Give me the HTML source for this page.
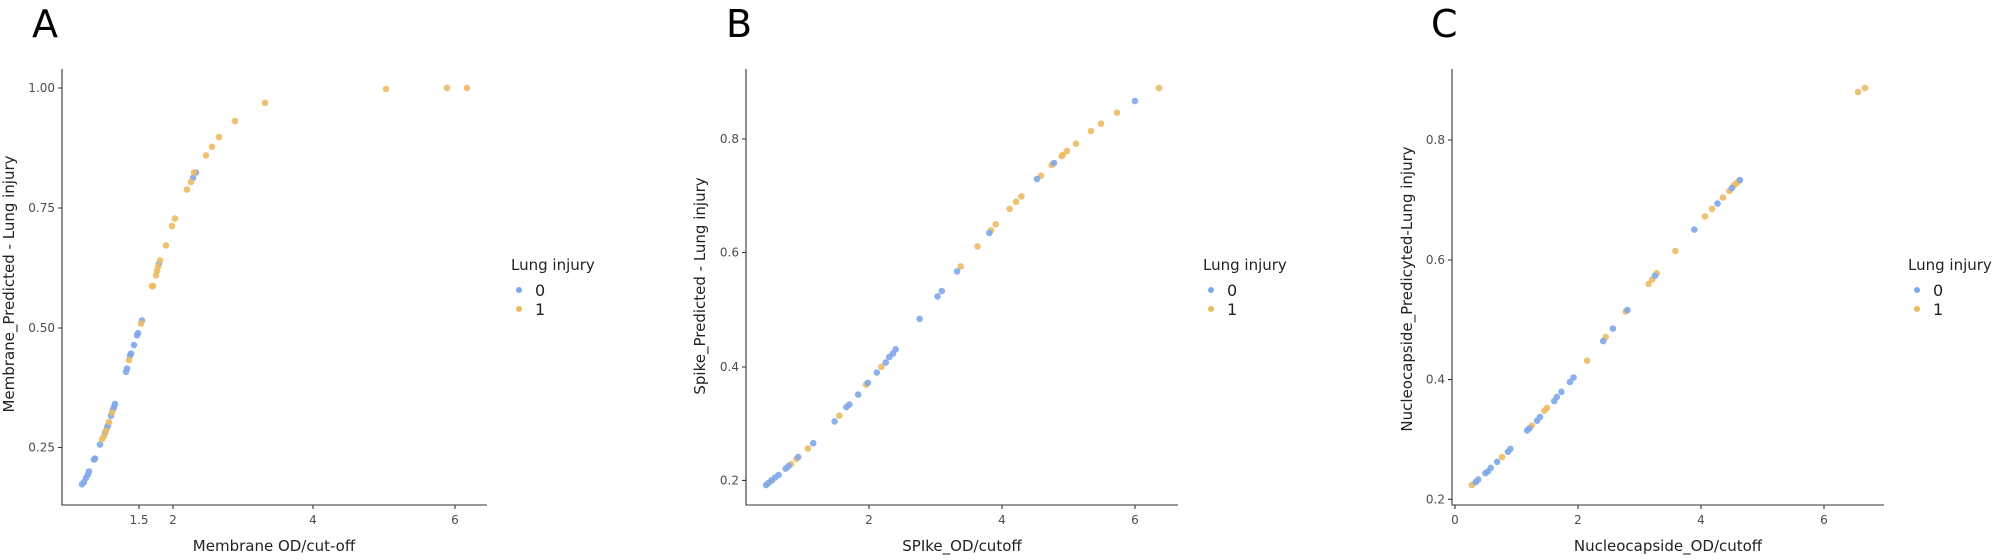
<!DOCTYPE html>
<html><head><meta charset="utf-8">
<style>
html,body{margin:0;padding:0;background:#fff;}
svg{display:block;}
text{font-family:"DejaVu Sans","Liberation Sans",sans-serif;}
.tk{font-size:12px;fill:#4d4d4d;}
.tt{font-size:15px;fill:#222;}
.lt{font-size:15px;fill:#222;}
.ll{font-size:16px;fill:#222;}
.pl{font-family:"Liberation Sans",sans-serif;font-size:38px;fill:#000;}
</style></head><body>
<svg id="s" width="1998" height="560" xmlns="http://www.w3.org/2000/svg">
<g stroke="#333" stroke-width="1.1" fill="none">
<polyline points="62,69 62,505 487,505"/>
<polyline points="746,69 746,505 1178,505"/>
<polyline points="1452,69 1452,505 1884,505"/>
<!-- A ticks -->
<path d="M58,88H62M58,208H62M58,328H62M58,447.5H62M139,505V509M173,505V509M313,505V509M455,505V509"/>
<path d="M742,139H746M742,252.5H746M742,367H746M742,480.4H746M869,505V509M1002,505V509M1135,505V509"/>
<path d="M1448,140H1452M1448,260H1452M1448,379.6H1452M1448,499.3H1452M1455,505V509M1578,505V509M1701,505V509M1824,505V509"/>
</g>
<g class="tk" text-anchor="end" dominant-baseline="central">
<text x="55" y="88">1.00</text><text x="55" y="208">0.75</text><text x="55" y="328">0.50</text><text x="55" y="447.5">0.25</text>
<text x="739" y="139">0.8</text><text x="739" y="252.5">0.6</text><text x="739" y="367">0.4</text><text x="739" y="480.4">0.2</text>
<text x="1445" y="140">0.8</text><text x="1445" y="260">0.6</text><text x="1445" y="379.6">0.4</text><text x="1445" y="499.3">0.2</text>
</g>
<g class="tk" text-anchor="middle">
<text x="139" y="524">1.5</text><text x="173" y="524">2</text><text x="313" y="524">4</text><text x="455" y="524">6</text>
<text x="869" y="524">2</text><text x="1002" y="524">4</text><text x="1135" y="524">6</text>
<text x="1455" y="524">0</text><text x="1578" y="524">2</text><text x="1701" y="524">4</text><text x="1824" y="524">6</text>
</g>
<g class="tt" text-anchor="middle">
<text x="274" y="551">Membrane OD/cut-off</text>
<text x="962" y="551">SPIke_OD/cutoff</text>
<text x="1668" y="551">Nucleocapside_OD/cutoff</text>
<text transform="translate(14,284) rotate(-90)">Membrane_Predicted - Lung injury</text>
<text transform="translate(705,286) rotate(-90)">Spike_Predicted - Lung injury</text>
<text transform="translate(1412,289) rotate(-90)">Nucleocapside_Predicyted-Lung injury</text>
</g>
<g class="pl"><text x="32" y="37">A</text><text x="726" y="37">B</text><text x="1431" y="37">C</text></g>
<g>
<text class="lt" x="511" y="270">Lung injury</text>
<circle cx="519" cy="290" r="3" fill="#7fa8e8"/><circle cx="519" cy="309" r="3" fill="#ebbb63"/>
<text class="ll" x="535" y="296">0</text><text class="ll" x="535" y="315">1</text>
<text class="lt" x="1203" y="270">Lung injury</text>
<circle cx="1211" cy="290" r="3" fill="#7fa8e8"/><circle cx="1211" cy="309" r="3" fill="#ebbb63"/>
<text class="ll" x="1227" y="296">0</text><text class="ll" x="1227" y="315">1</text>
<text class="lt" x="1908" y="270">Lung injury</text>
<circle cx="1917" cy="290" r="3" fill="#7fa8e8"/><circle cx="1917" cy="309" r="3" fill="#ebbb63"/>
<text class="ll" x="1933" y="296">0</text><text class="ll" x="1933" y="315">1</text>
</g>
<g id="pts"></g>
</svg>
<script>
var B="#7fa8e8",O="#ebbb63",out=[];
function add(c,x,y){out.push('<circle cx="'+x.toFixed(1)+'" cy="'+y.toFixed(1)+'" r="3.3" fill="'+c+'" fill-opacity="0.9"/>');}
// Panel A (x true, y in /3 coords -> *3/2.8)
var f=3/2.8;
var Ab=[[82,452],[84,450],[86,446],[88,443],[89,440],[94,429],[95,428],[100,415],[105,404],[107,399],[108,397],[111,388],[113,382],[114,380],[115,377],[126,347],[127,344],[130,332],[131,330],[134,322],[137,313],[138,311],[142,299],[159,246],[193,166],[196,161]];
var Ao=[[102,410],[104,407],[106,402],[109,394],[112,385],[129,336],[141,302],[152,267],[153,267],[156,257],[157,253],[158,249],[160,243],[166,229],[172,211],[175,204],[187,177],[191,170],[194,161],[206,145],[212,137],[219,128],[235,113],[265,96],[386,83],[447,82],[467,82]];
Ab.forEach(function(p){add(B,p[0],p[1]*f);});Ao.forEach(function(p){add(O,p[0],p[1]*f);});
// Panel B zoom coords /2.8 +500
var Bb=[[745,1358],[752,1352],[760,1345],[770,1337],[780,1330],[800,1312],[808,1305],[835,1280],[877,1241],[937,1180],[970,1140],[978,1133],[1003,1105],[1030,1072],[1055,1043],[1080,1015],[1090,1000],[1100,990],[1108,978],[1175,893],[1225,830],[1237,815],[1280,760],[1370,652]];
var Bo=[[762,1345],[815,1300],[830,1285],[862,1256],[950,1164],[1025,1077],[1068,1027],[1290,746],[1337,690],[1375,645],[1388,628],[1427,585],[1445,565],[1460,550]];
Bo.forEach(function(p){add(O,500+p[0]/2.8,p[1]/2.8);});Bb.forEach(function(p){add(B,500+p[0]/2.8,p[1]/2.8);});
var Bt=[[O,1041,175.7],[O,1051.7,165],[O,1061.7,156],[O,1062.7,155],[O,1067,151],[O,1076,143.7],[O,1091,131],[O,1101,123.7],[O,1117,112.7],[O,1159,88],[B,1037,179],[B,1054,163],[B,1135,101]];
Bt.forEach(function(p){add(p[0],p[1],p[2]);});
// Panel C
var Co=[[677,1358],[762,1280],[845,1192],[880,1150],[888,1142],[1000,1010],[1052,944],[1108,872],[1172,795],[1182,783],[1195,765],[1247,703],[1330,606],[1350,585],[1380,553],[1398,535],[1410,520],[1418,513],[1425,507]];
var Cb=[[688,1350],[695,1343],[715,1325],[722,1320],[730,1310],[748,1293],[778,1265],[785,1257],[832,1205],[838,1200],[860,1178],[868,1168],[908,1123],[915,1112],[928,1097],[952,1070],[962,1057],[1045,955],[1072,920],[1113,868],[1190,772],[1300,643],[1365,570],[1405,527],[1428,504]];
Co.forEach(function(p){add(O,1230+p[0]/2.8,p[1]/2.8);});Cb.forEach(function(p){add(B,1230+p[0]/2.8,p[1]/2.8);});
add(O,1858,92);add(O,1865,88);
document.getElementById("pts").innerHTML=out.join("");
</script>
</body></html>
